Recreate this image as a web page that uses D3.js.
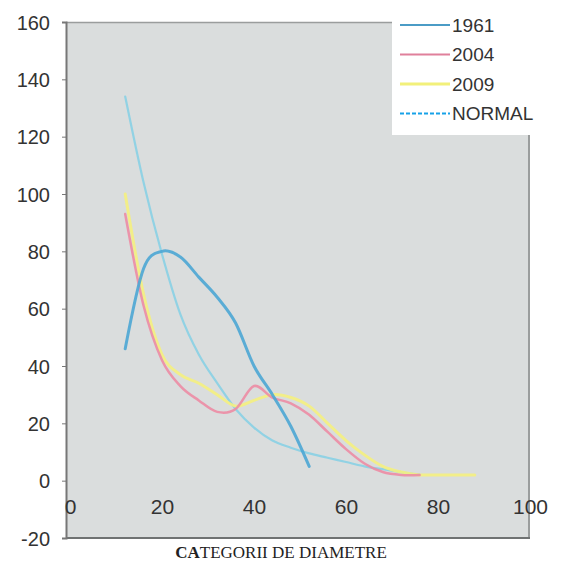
<!DOCTYPE html>
<html><head><meta charset="utf-8">
<script src="https://cdn.jsdelivr.net/npm/d3@7"></script>
<style>body{margin:0;background:#fff}svg{display:block}</style>
</head><body>
<svg id="c" width="561" height="566"></svg>
<script>
const seriesNames = ["1961", "2004", "2009", "NORMAL"];
const cat1961 = [12,16,20,24,28,32,36,40,44,48,52];
const val1961 = [46,74,80,78,71,64,55,40,30,19,5];
const cat2004 = [12,16,20,24,28,32,36,40,44,48,52,56,60,64,68,72,76];
const val2004 = [93,61,42,33,28,24,25,33,29,27,23,17,11,6,3,2,2];
const cat2009 = [12,16,20,24,28,32,36,40,44,48,52,56,60,64,68,72,76,80,84,88];
const val2009 = [100,65,44,37,34,30,26,28,30,29,26,20,14,9,5,3,2,2,2,2];
const catNormal = [12,16,20,24,28,32,36,40,44,48,52,56,60,64,68,72,76];
const valNormal = [134,104,79,58,44,34,25,18.5,14,11.5,9.5,8,6.5,5,4,3,2];
const xTicks = [0,20,40,60,80,100];
const yTicks = [-20,0,20,40,60,80,100,120,140,160];
const xTitle = ["CA", "TEGORII DE DIAMETRE"];

const svg = d3.select("#c");
const x = d3.scaleLinear().domain([0,100]).range([70,530]);
const y = d3.scaleLinear().domain([-20,160]).range([538,22]);

// plot area
svg.append("rect").attr("x",66).attr("y",22).attr("width",530-66).attr("height",538-22)
  .attr("fill","#dadddd");
svg.append("line").attr("x1",66).attr("x2",530).attr("y1",22.5).attr("y2",22.5).attr("stroke","#9a9d9d").attr("stroke-width",1.5);
svg.append("line").attr("x1",529).attr("x2",529).attr("y1",22).attr("y2",538).attr("stroke","#9a9d9d").attr("stroke-width",2);
svg.append("line").attr("x1",66).attr("x2",530).attr("y1",538).attr("y2",538).attr("stroke","#6f7272").attr("stroke-width",2);

// y axis
const yAxis = d3.axisLeft(y).tickValues(yTicks).tickSize(4).tickPadding(12).tickFormat(d=>String(d));
const gy = svg.append("g").attr("transform","translate(66,0)").call(yAxis);
gy.select(".domain").attr("stroke","#777").attr("stroke-width",2);
gy.selectAll(".tick line").attr("stroke","#777");
gy.selectAll("text").attr("font-family","Liberation Sans, Arial, sans-serif").attr("font-size",20).attr("fill","#333").attr("dy","0.35em");

// x axis labels at y=0
const xAxis = d3.axisBottom(x).tickValues(xTicks).tickSize(0).tickPadding(18).tickFormat(d=>String(d));
const gx = svg.append("g").attr("transform",`translate(0,${y(0)})`).call(xAxis);
gx.select(".domain").remove();
gx.selectAll("text").attr("font-family","Liberation Sans, Arial, sans-serif").attr("font-size",21).attr("fill","#333");

const line = d3.line().x(d=>x(d[0])).y(d=>y(d[1])).curve(d3.curveCatmullRom.alpha(0));
const mk = (c,v)=>c.map((d,i)=>[d,v[i]]);

const styles = {
  "NORMAL": {c:"#88d0e4", w:2.2},
  "2009": {c:"#f4ef80", w:3},
  "2004": {c:"#ec8ca4", w:2.5},
  "1961": {c:"#4ba6d4", w:3}
};
const data = {
  "1961": mk(cat1961,val1961),
  "2004": mk(cat2004,val2004),
  "2009": mk(cat2009,val2009),
  "NORMAL": mk(catNormal,valNormal)
};
["NORMAL","2009","2004","1961"].forEach(k=>{
  svg.append("path").datum(data[k]).attr("d",line).attr("fill","none")
    .attr("stroke",styles[k].c).attr("stroke-width",styles[k].w).attr("stroke-opacity",0.9)
    .attr("stroke-linecap","round").attr("stroke-linejoin","round");
});

// legend
svg.append("rect").attr("x",392).attr("y",0).attr("width",150).attr("height",135).attr("fill","#fff");
const legStyle = {
  "1961": {c:"#4b9cc6", w:2, dash:null},
  "2004": {c:"#e0809b", w:2, dash:null},
  "2009": {c:"#f2f07a", w:3, dash:null},
  "NORMAL": {c:"#17a2e8", w:2, dash:"4,2"}
};
const lg = svg.append("g");
seriesNames.forEach((k,i)=>{
  const yy = 25 + i*29.5;
  lg.append("line").attr("x1",400).attr("x2",450).attr("y1",yy).attr("y2",yy)
    .attr("stroke",legStyle[k].c).attr("stroke-width",legStyle[k].w)
    .attr("stroke-dasharray",legStyle[k].dash);
  lg.append("text").attr("x",452).attr("y",yy).attr("dy","0.36em")
    .attr("font-family","Liberation Sans, Arial, sans-serif").attr("font-size",19).attr("fill","#333").text(k);
});

// x title
const t = svg.append("text").attr("x",281).attr("y",558).attr("text-anchor","middle")
  .attr("font-family","Liberation Serif, Times New Roman, serif").attr("font-size",17).attr("fill","#222");
t.append("tspan").attr("font-weight","bold").text(xTitle[0]);
t.append("tspan").text(xTitle[1]);
</script>
</body></html>
